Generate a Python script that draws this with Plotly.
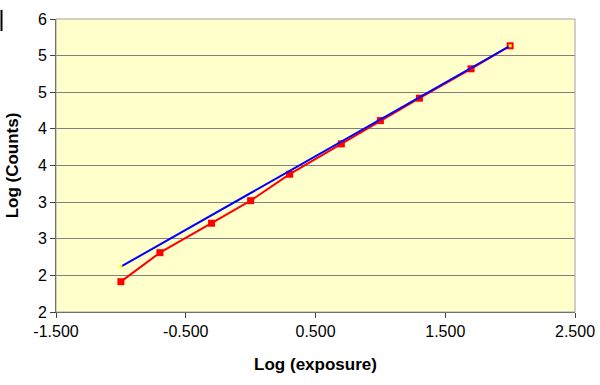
import plotly.graph_objects as go

# Data
log_exposure = [-1.0, -0.699, -0.301, 0.0, 0.301, 0.699, 1.0, 1.301, 1.699, 2.0]
log_counts = [2.414, 2.810, 3.212, 3.520, 3.881, 4.295, 4.613, 4.919, 5.320, 5.634]
fit_x = [-1.0, 2.0]
fit_y = [2.619, 5.634]

x_tickvals = [-1.5, -0.5, 0.5, 1.5, 2.5]
x_ticktext = ["-1.500", "-0.500", "0.500", "1.500", "2.500"]
y_tickvals = [2.0, 2.5, 3.0, 3.5, 4.0, 4.5, 5.0, 5.5, 6.0]
y_ticktext = ["2", "2", "3", "3", "4", "4", "5", "5", "6"]

font_family = "Liberation Sans, Arial, sans-serif"

fig = go.Figure()
fig.add_trace(go.Scatter(
    x=log_exposure, y=log_counts, mode="lines+markers",
    line=dict(color="#FF0000", width=2),
    marker=dict(symbol="square", size=7, color="#FF0000"),
    showlegend=False, hoverinfo="x+y",
))
fig.add_trace(go.Scatter(
    x=fit_x, y=fit_y, mode="lines+markers",
    line=dict(color="#0000FF", width=2),
    marker=dict(symbol="square", size=3, color="#FFFF00"),
    showlegend=False, hoverinfo="x+y",
))

fig.update_layout(
    width=600, height=385,
    margin=dict(l=56, r=25, t=19, b=73, autoexpand=False),
    paper_bgcolor="white",
    plot_bgcolor="#FFFFCC",
    font=dict(family=font_family, size=16, color="black"),
    xaxis=dict(
        range=[-1.5, 2.5], tickvals=x_tickvals, ticktext=x_ticktext,
        showgrid=False, zeroline=False, automargin=False,
        showline=True, linecolor="#404040", linewidth=1,
        ticks="outside", ticklen=5, tickcolor="#404040",
        ticklabeloverflow="allow",
        title=dict(text="<b>Log (exposure)</b>", standoff=18,
                   font=dict(size=17)),
        tickfont=dict(size=16),
    ),
    yaxis=dict(
        range=[2, 6], tickvals=y_tickvals, ticktext=y_ticktext,
        showgrid=True, gridcolor="#808080", gridwidth=1,
        zeroline=False, automargin=False,
        showline=True, linecolor="#404040", linewidth=1,
        ticks="outside", ticklen=5, tickcolor="#404040",
        title=dict(text="<b>Log (Counts)</b>", standoff=14,
                   font=dict(size=17)),
        tickfont=dict(size=16),
    ),
    shapes=[
        dict(type="rect", xref="paper", yref="paper", x0=0, y0=0, x1=1, y1=1,
             line=dict(color="#A0A0A0", width=1), layer="above"),
        dict(type="line", xref="paper", yref="paper",
             x0=-0.105, x1=-0.105, y0=0.959, y1=1.031,
             line=dict(color="black", width=2)),
    ],
)

fig.write_html(
    "out.html",
    config={"displayModeBar": False},
    post_script="document.body.style.margin='0';document.body.style.overflow='hidden';",
)
